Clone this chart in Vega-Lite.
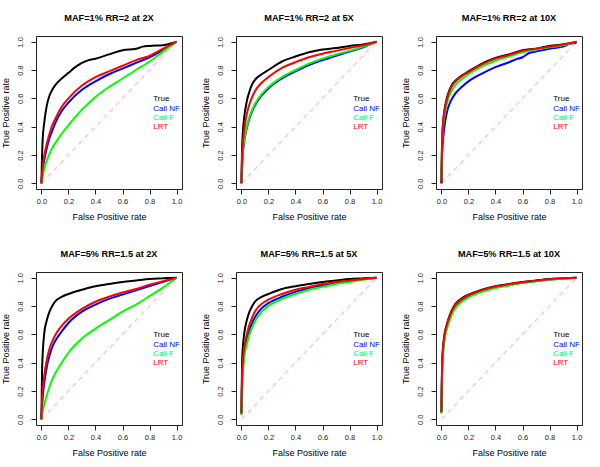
{
"$schema": "https://vega.github.io/schema/vega-lite/v6.json",
"padding": {"left": 0, "top": 13, "right": 0, "bottom": 0},
"config": {"view": {"stroke": "#222", "strokeWidth": 1}, "font": "Liberation Sans"},
"datasets": {"roc": [
{"panel":"MAF=1% RR=2 at 2X","series":"True","fpr":0,"tpr":0},{"panel":"MAF=1% RR=2 at 2X","series":"True","fpr":0.005,"tpr":0.2},{"panel":"MAF=1% RR=2 at 2X","series":"True","fpr":0.01,"tpr":0.32},{"panel":"MAF=1% RR=2 at 2X","series":"True","fpr":0.02,"tpr":0.42},{"panel":"MAF=1% RR=2 at 2X","series":"True","fpr":0.04,"tpr":0.55},{"panel":"MAF=1% RR=2 at 2X","series":"True","fpr":0.06,"tpr":0.62},{"panel":"MAF=1% RR=2 at 2X","series":"True","fpr":0.08,"tpr":0.66},{"panel":"MAF=1% RR=2 at 2X","series":"True","fpr":0.1,"tpr":0.69},{"panel":"MAF=1% RR=2 at 2X","series":"True","fpr":0.15,"tpr":0.74},{"panel":"MAF=1% RR=2 at 2X","series":"True","fpr":0.2,"tpr":0.78},{"panel":"MAF=1% RR=2 at 2X","series":"True","fpr":0.25,"tpr":0.82},{"panel":"MAF=1% RR=2 at 2X","series":"True","fpr":0.3,"tpr":0.85},{"panel":"MAF=1% RR=2 at 2X","series":"True","fpr":0.35,"tpr":0.87},{"panel":"MAF=1% RR=2 at 2X","series":"True","fpr":0.4,"tpr":0.88},{"panel":"MAF=1% RR=2 at 2X","series":"True","fpr":0.5,"tpr":0.91},{"panel":"MAF=1% RR=2 at 2X","series":"True","fpr":0.6,"tpr":0.94},{"panel":"MAF=1% RR=2 at 2X","series":"True","fpr":0.7,"tpr":0.95},{"panel":"MAF=1% RR=2 at 2X","series":"True","fpr":0.75,"tpr":0.965},{"panel":"MAF=1% RR=2 at 2X","series":"True","fpr":0.8,"tpr":0.97},{"panel":"MAF=1% RR=2 at 2X","series":"True","fpr":0.9,"tpr":0.975},{"panel":"MAF=1% RR=2 at 2X","series":"True","fpr":0.95,"tpr":0.985},{"panel":"MAF=1% RR=2 at 2X","series":"True","fpr":1,"tpr":1},
{"panel":"MAF=1% RR=2 at 2X","series":"Call NF","fpr":0,"tpr":0},{"panel":"MAF=1% RR=2 at 2X","series":"Call NF","fpr":0.01,"tpr":0.1},{"panel":"MAF=1% RR=2 at 2X","series":"Call NF","fpr":0.02,"tpr":0.16},{"panel":"MAF=1% RR=2 at 2X","series":"Call NF","fpr":0.04,"tpr":0.25},{"panel":"MAF=1% RR=2 at 2X","series":"Call NF","fpr":0.06,"tpr":0.32},{"panel":"MAF=1% RR=2 at 2X","series":"Call NF","fpr":0.08,"tpr":0.37},{"panel":"MAF=1% RR=2 at 2X","series":"Call NF","fpr":0.1,"tpr":0.42},{"panel":"MAF=1% RR=2 at 2X","series":"Call NF","fpr":0.15,"tpr":0.51},{"panel":"MAF=1% RR=2 at 2X","series":"Call NF","fpr":0.2,"tpr":0.57},{"panel":"MAF=1% RR=2 at 2X","series":"Call NF","fpr":0.3,"tpr":0.66},{"panel":"MAF=1% RR=2 at 2X","series":"Call NF","fpr":0.4,"tpr":0.72},{"panel":"MAF=1% RR=2 at 2X","series":"Call NF","fpr":0.5,"tpr":0.77},{"panel":"MAF=1% RR=2 at 2X","series":"Call NF","fpr":0.6,"tpr":0.81},{"panel":"MAF=1% RR=2 at 2X","series":"Call NF","fpr":0.7,"tpr":0.85},{"panel":"MAF=1% RR=2 at 2X","series":"Call NF","fpr":0.8,"tpr":0.89},{"panel":"MAF=1% RR=2 at 2X","series":"Call NF","fpr":0.9,"tpr":0.94},{"panel":"MAF=1% RR=2 at 2X","series":"Call NF","fpr":1,"tpr":1},
{"panel":"MAF=1% RR=2 at 2X","series":"Call F","fpr":0,"tpr":0},{"panel":"MAF=1% RR=2 at 2X","series":"Call F","fpr":0.01,"tpr":0.05},{"panel":"MAF=1% RR=2 at 2X","series":"Call F","fpr":0.02,"tpr":0.1},{"panel":"MAF=1% RR=2 at 2X","series":"Call F","fpr":0.04,"tpr":0.16},{"panel":"MAF=1% RR=2 at 2X","series":"Call F","fpr":0.06,"tpr":0.21},{"panel":"MAF=1% RR=2 at 2X","series":"Call F","fpr":0.08,"tpr":0.25},{"panel":"MAF=1% RR=2 at 2X","series":"Call F","fpr":0.1,"tpr":0.28},{"panel":"MAF=1% RR=2 at 2X","series":"Call F","fpr":0.15,"tpr":0.35},{"panel":"MAF=1% RR=2 at 2X","series":"Call F","fpr":0.2,"tpr":0.41},{"panel":"MAF=1% RR=2 at 2X","series":"Call F","fpr":0.3,"tpr":0.52},{"panel":"MAF=1% RR=2 at 2X","series":"Call F","fpr":0.4,"tpr":0.61},{"panel":"MAF=1% RR=2 at 2X","series":"Call F","fpr":0.5,"tpr":0.68},{"panel":"MAF=1% RR=2 at 2X","series":"Call F","fpr":0.6,"tpr":0.74},{"panel":"MAF=1% RR=2 at 2X","series":"Call F","fpr":0.7,"tpr":0.8},{"panel":"MAF=1% RR=2 at 2X","series":"Call F","fpr":0.8,"tpr":0.86},{"panel":"MAF=1% RR=2 at 2X","series":"Call F","fpr":0.9,"tpr":0.93},{"panel":"MAF=1% RR=2 at 2X","series":"Call F","fpr":1,"tpr":1},
{"panel":"MAF=1% RR=2 at 2X","series":"LRT","fpr":0,"tpr":0},{"panel":"MAF=1% RR=2 at 2X","series":"LRT","fpr":0.01,"tpr":0.12},{"panel":"MAF=1% RR=2 at 2X","series":"LRT","fpr":0.02,"tpr":0.19},{"panel":"MAF=1% RR=2 at 2X","series":"LRT","fpr":0.04,"tpr":0.28},{"panel":"MAF=1% RR=2 at 2X","series":"LRT","fpr":0.06,"tpr":0.35},{"panel":"MAF=1% RR=2 at 2X","series":"LRT","fpr":0.08,"tpr":0.41},{"panel":"MAF=1% RR=2 at 2X","series":"LRT","fpr":0.1,"tpr":0.45},{"panel":"MAF=1% RR=2 at 2X","series":"LRT","fpr":0.15,"tpr":0.54},{"panel":"MAF=1% RR=2 at 2X","series":"LRT","fpr":0.2,"tpr":0.6},{"panel":"MAF=1% RR=2 at 2X","series":"LRT","fpr":0.3,"tpr":0.69},{"panel":"MAF=1% RR=2 at 2X","series":"LRT","fpr":0.4,"tpr":0.75},{"panel":"MAF=1% RR=2 at 2X","series":"LRT","fpr":0.5,"tpr":0.79},{"panel":"MAF=1% RR=2 at 2X","series":"LRT","fpr":0.6,"tpr":0.83},{"panel":"MAF=1% RR=2 at 2X","series":"LRT","fpr":0.7,"tpr":0.87},{"panel":"MAF=1% RR=2 at 2X","series":"LRT","fpr":0.8,"tpr":0.9},{"panel":"MAF=1% RR=2 at 2X","series":"LRT","fpr":0.9,"tpr":0.95},{"panel":"MAF=1% RR=2 at 2X","series":"LRT","fpr":1,"tpr":1},

{"panel":"MAF=1% RR=2 at 5X","series":"True","fpr":0,"tpr":0},{"panel":"MAF=1% RR=2 at 5X","series":"True","fpr":0.005,"tpr":0.25},{"panel":"MAF=1% RR=2 at 5X","series":"True","fpr":0.01,"tpr":0.35},{"panel":"MAF=1% RR=2 at 5X","series":"True","fpr":0.02,"tpr":0.46},{"panel":"MAF=1% RR=2 at 5X","series":"True","fpr":0.04,"tpr":0.58},{"panel":"MAF=1% RR=2 at 5X","series":"True","fpr":0.06,"tpr":0.65},{"panel":"MAF=1% RR=2 at 5X","series":"True","fpr":0.08,"tpr":0.7},{"panel":"MAF=1% RR=2 at 5X","series":"True","fpr":0.1,"tpr":0.73},{"panel":"MAF=1% RR=2 at 5X","series":"True","fpr":0.15,"tpr":0.77},{"panel":"MAF=1% RR=2 at 5X","series":"True","fpr":0.2,"tpr":0.8},{"panel":"MAF=1% RR=2 at 5X","series":"True","fpr":0.3,"tpr":0.86},{"panel":"MAF=1% RR=2 at 5X","series":"True","fpr":0.4,"tpr":0.895},{"panel":"MAF=1% RR=2 at 5X","series":"True","fpr":0.5,"tpr":0.925},{"panel":"MAF=1% RR=2 at 5X","series":"True","fpr":0.6,"tpr":0.945},{"panel":"MAF=1% RR=2 at 5X","series":"True","fpr":0.7,"tpr":0.955},{"panel":"MAF=1% RR=2 at 5X","series":"True","fpr":0.8,"tpr":0.97},{"panel":"MAF=1% RR=2 at 5X","series":"True","fpr":0.9,"tpr":0.98},{"panel":"MAF=1% RR=2 at 5X","series":"True","fpr":1,"tpr":1},
{"panel":"MAF=1% RR=2 at 5X","series":"Call NF","fpr":0,"tpr":0},{"panel":"MAF=1% RR=2 at 5X","series":"Call NF","fpr":0.005,"tpr":0.12},{"panel":"MAF=1% RR=2 at 5X","series":"Call NF","fpr":0.01,"tpr":0.2},{"panel":"MAF=1% RR=2 at 5X","series":"Call NF","fpr":0.02,"tpr":0.29},{"panel":"MAF=1% RR=2 at 5X","series":"Call NF","fpr":0.04,"tpr":0.39},{"panel":"MAF=1% RR=2 at 5X","series":"Call NF","fpr":0.06,"tpr":0.46},{"panel":"MAF=1% RR=2 at 5X","series":"Call NF","fpr":0.08,"tpr":0.51},{"panel":"MAF=1% RR=2 at 5X","series":"Call NF","fpr":0.1,"tpr":0.55},{"panel":"MAF=1% RR=2 at 5X","series":"Call NF","fpr":0.15,"tpr":0.62},{"panel":"MAF=1% RR=2 at 5X","series":"Call NF","fpr":0.2,"tpr":0.67},{"panel":"MAF=1% RR=2 at 5X","series":"Call NF","fpr":0.3,"tpr":0.74},{"panel":"MAF=1% RR=2 at 5X","series":"Call NF","fpr":0.4,"tpr":0.79},{"panel":"MAF=1% RR=2 at 5X","series":"Call NF","fpr":0.5,"tpr":0.835},{"panel":"MAF=1% RR=2 at 5X","series":"Call NF","fpr":0.6,"tpr":0.87},{"panel":"MAF=1% RR=2 at 5X","series":"Call NF","fpr":0.7,"tpr":0.9},{"panel":"MAF=1% RR=2 at 5X","series":"Call NF","fpr":0.8,"tpr":0.93},{"panel":"MAF=1% RR=2 at 5X","series":"Call NF","fpr":0.9,"tpr":0.96},{"panel":"MAF=1% RR=2 at 5X","series":"Call NF","fpr":1,"tpr":1},
{"panel":"MAF=1% RR=2 at 5X","series":"Call F","fpr":0,"tpr":0.01},{"panel":"MAF=1% RR=2 at 5X","series":"Call F","fpr":0.005,"tpr":0.13},{"panel":"MAF=1% RR=2 at 5X","series":"Call F","fpr":0.01,"tpr":0.21},{"panel":"MAF=1% RR=2 at 5X","series":"Call F","fpr":0.02,"tpr":0.3},{"panel":"MAF=1% RR=2 at 5X","series":"Call F","fpr":0.04,"tpr":0.4},{"panel":"MAF=1% RR=2 at 5X","series":"Call F","fpr":0.06,"tpr":0.47},{"panel":"MAF=1% RR=2 at 5X","series":"Call F","fpr":0.08,"tpr":0.52},{"panel":"MAF=1% RR=2 at 5X","series":"Call F","fpr":0.1,"tpr":0.56},{"panel":"MAF=1% RR=2 at 5X","series":"Call F","fpr":0.15,"tpr":0.63},{"panel":"MAF=1% RR=2 at 5X","series":"Call F","fpr":0.2,"tpr":0.68},{"panel":"MAF=1% RR=2 at 5X","series":"Call F","fpr":0.3,"tpr":0.75},{"panel":"MAF=1% RR=2 at 5X","series":"Call F","fpr":0.4,"tpr":0.8},{"panel":"MAF=1% RR=2 at 5X","series":"Call F","fpr":0.5,"tpr":0.845},{"panel":"MAF=1% RR=2 at 5X","series":"Call F","fpr":0.6,"tpr":0.88},{"panel":"MAF=1% RR=2 at 5X","series":"Call F","fpr":0.7,"tpr":0.91},{"panel":"MAF=1% RR=2 at 5X","series":"Call F","fpr":0.8,"tpr":0.935},{"panel":"MAF=1% RR=2 at 5X","series":"Call F","fpr":0.9,"tpr":0.965},{"panel":"MAF=1% RR=2 at 5X","series":"Call F","fpr":1,"tpr":1},
{"panel":"MAF=1% RR=2 at 5X","series":"LRT","fpr":0,"tpr":0},{"panel":"MAF=1% RR=2 at 5X","series":"LRT","fpr":0.005,"tpr":0.18},{"panel":"MAF=1% RR=2 at 5X","series":"LRT","fpr":0.01,"tpr":0.27},{"panel":"MAF=1% RR=2 at 5X","series":"LRT","fpr":0.02,"tpr":0.37},{"panel":"MAF=1% RR=2 at 5X","series":"LRT","fpr":0.04,"tpr":0.49},{"panel":"MAF=1% RR=2 at 5X","series":"LRT","fpr":0.06,"tpr":0.56},{"panel":"MAF=1% RR=2 at 5X","series":"LRT","fpr":0.08,"tpr":0.61},{"panel":"MAF=1% RR=2 at 5X","series":"LRT","fpr":0.1,"tpr":0.65},{"panel":"MAF=1% RR=2 at 5X","series":"LRT","fpr":0.15,"tpr":0.71},{"panel":"MAF=1% RR=2 at 5X","series":"LRT","fpr":0.2,"tpr":0.75},{"panel":"MAF=1% RR=2 at 5X","series":"LRT","fpr":0.3,"tpr":0.815},{"panel":"MAF=1% RR=2 at 5X","series":"LRT","fpr":0.4,"tpr":0.855},{"panel":"MAF=1% RR=2 at 5X","series":"LRT","fpr":0.5,"tpr":0.89},{"panel":"MAF=1% RR=2 at 5X","series":"LRT","fpr":0.6,"tpr":0.915},{"panel":"MAF=1% RR=2 at 5X","series":"LRT","fpr":0.7,"tpr":0.935},{"panel":"MAF=1% RR=2 at 5X","series":"LRT","fpr":0.8,"tpr":0.955},{"panel":"MAF=1% RR=2 at 5X","series":"LRT","fpr":0.9,"tpr":0.975},{"panel":"MAF=1% RR=2 at 5X","series":"LRT","fpr":1,"tpr":1},

{"panel":"MAF=1% RR=2 at 10X","series":"True","fpr":0,"tpr":0},{"panel":"MAF=1% RR=2 at 10X","series":"True","fpr":0.005,"tpr":0.3},{"panel":"MAF=1% RR=2 at 10X","series":"True","fpr":0.01,"tpr":0.4},{"panel":"MAF=1% RR=2 at 10X","series":"True","fpr":0.02,"tpr":0.5},{"panel":"MAF=1% RR=2 at 10X","series":"True","fpr":0.04,"tpr":0.6},{"panel":"MAF=1% RR=2 at 10X","series":"True","fpr":0.06,"tpr":0.66},{"panel":"MAF=1% RR=2 at 10X","series":"True","fpr":0.08,"tpr":0.7},{"panel":"MAF=1% RR=2 at 10X","series":"True","fpr":0.1,"tpr":0.72},{"panel":"MAF=1% RR=2 at 10X","series":"True","fpr":0.15,"tpr":0.76},{"panel":"MAF=1% RR=2 at 10X","series":"True","fpr":0.2,"tpr":0.79},{"panel":"MAF=1% RR=2 at 10X","series":"True","fpr":0.3,"tpr":0.845},{"panel":"MAF=1% RR=2 at 10X","series":"True","fpr":0.4,"tpr":0.885},{"panel":"MAF=1% RR=2 at 10X","series":"True","fpr":0.5,"tpr":0.91},{"panel":"MAF=1% RR=2 at 10X","series":"True","fpr":0.6,"tpr":0.94},{"panel":"MAF=1% RR=2 at 10X","series":"True","fpr":0.7,"tpr":0.95},{"panel":"MAF=1% RR=2 at 10X","series":"True","fpr":0.8,"tpr":0.97},{"panel":"MAF=1% RR=2 at 10X","series":"True","fpr":0.9,"tpr":0.98},{"panel":"MAF=1% RR=2 at 10X","series":"True","fpr":1,"tpr":1},
{"panel":"MAF=1% RR=2 at 10X","series":"Call NF","fpr":0,"tpr":0},{"panel":"MAF=1% RR=2 at 10X","series":"Call NF","fpr":0.005,"tpr":0.2},{"panel":"MAF=1% RR=2 at 10X","series":"Call NF","fpr":0.01,"tpr":0.28},{"panel":"MAF=1% RR=2 at 10X","series":"Call NF","fpr":0.02,"tpr":0.38},{"panel":"MAF=1% RR=2 at 10X","series":"Call NF","fpr":0.04,"tpr":0.5},{"panel":"MAF=1% RR=2 at 10X","series":"Call NF","fpr":0.06,"tpr":0.56},{"panel":"MAF=1% RR=2 at 10X","series":"Call NF","fpr":0.08,"tpr":0.6},{"panel":"MAF=1% RR=2 at 10X","series":"Call NF","fpr":0.1,"tpr":0.63},{"panel":"MAF=1% RR=2 at 10X","series":"Call NF","fpr":0.15,"tpr":0.68},{"panel":"MAF=1% RR=2 at 10X","series":"Call NF","fpr":0.2,"tpr":0.72},{"panel":"MAF=1% RR=2 at 10X","series":"Call NF","fpr":0.3,"tpr":0.775},{"panel":"MAF=1% RR=2 at 10X","series":"Call NF","fpr":0.4,"tpr":0.82},{"panel":"MAF=1% RR=2 at 10X","series":"Call NF","fpr":0.5,"tpr":0.855},{"panel":"MAF=1% RR=2 at 10X","series":"Call NF","fpr":0.55,"tpr":0.875},{"panel":"MAF=1% RR=2 at 10X","series":"Call NF","fpr":0.6,"tpr":0.89},{"panel":"MAF=1% RR=2 at 10X","series":"Call NF","fpr":0.65,"tpr":0.92},{"panel":"MAF=1% RR=2 at 10X","series":"Call NF","fpr":0.7,"tpr":0.93},{"panel":"MAF=1% RR=2 at 10X","series":"Call NF","fpr":0.8,"tpr":0.95},{"panel":"MAF=1% RR=2 at 10X","series":"Call NF","fpr":0.9,"tpr":0.965},{"panel":"MAF=1% RR=2 at 10X","series":"Call NF","fpr":0.95,"tpr":0.985},{"panel":"MAF=1% RR=2 at 10X","series":"Call NF","fpr":1,"tpr":0.99},
{"panel":"MAF=1% RR=2 at 10X","series":"Call F","fpr":0,"tpr":0.02},{"panel":"MAF=1% RR=2 at 10X","series":"Call F","fpr":0.005,"tpr":0.26},{"panel":"MAF=1% RR=2 at 10X","series":"Call F","fpr":0.01,"tpr":0.36},{"panel":"MAF=1% RR=2 at 10X","series":"Call F","fpr":0.02,"tpr":0.46},{"panel":"MAF=1% RR=2 at 10X","series":"Call F","fpr":0.04,"tpr":0.56},{"panel":"MAF=1% RR=2 at 10X","series":"Call F","fpr":0.06,"tpr":0.62},{"panel":"MAF=1% RR=2 at 10X","series":"Call F","fpr":0.08,"tpr":0.66},{"panel":"MAF=1% RR=2 at 10X","series":"Call F","fpr":0.1,"tpr":0.69},{"panel":"MAF=1% RR=2 at 10X","series":"Call F","fpr":0.15,"tpr":0.735},{"panel":"MAF=1% RR=2 at 10X","series":"Call F","fpr":0.2,"tpr":0.77},{"panel":"MAF=1% RR=2 at 10X","series":"Call F","fpr":0.3,"tpr":0.825},{"panel":"MAF=1% RR=2 at 10X","series":"Call F","fpr":0.4,"tpr":0.865},{"panel":"MAF=1% RR=2 at 10X","series":"Call F","fpr":0.5,"tpr":0.895},{"panel":"MAF=1% RR=2 at 10X","series":"Call F","fpr":0.6,"tpr":0.925},{"panel":"MAF=1% RR=2 at 10X","series":"Call F","fpr":0.7,"tpr":0.945},{"panel":"MAF=1% RR=2 at 10X","series":"Call F","fpr":0.8,"tpr":0.96},{"panel":"MAF=1% RR=2 at 10X","series":"Call F","fpr":0.9,"tpr":0.975},{"panel":"MAF=1% RR=2 at 10X","series":"Call F","fpr":1,"tpr":1},
{"panel":"MAF=1% RR=2 at 10X","series":"LRT","fpr":0,"tpr":0},{"panel":"MAF=1% RR=2 at 10X","series":"LRT","fpr":0.005,"tpr":0.29},{"panel":"MAF=1% RR=2 at 10X","series":"LRT","fpr":0.01,"tpr":0.39},{"panel":"MAF=1% RR=2 at 10X","series":"LRT","fpr":0.02,"tpr":0.49},{"panel":"MAF=1% RR=2 at 10X","series":"LRT","fpr":0.04,"tpr":0.59},{"panel":"MAF=1% RR=2 at 10X","series":"LRT","fpr":0.06,"tpr":0.65},{"panel":"MAF=1% RR=2 at 10X","series":"LRT","fpr":0.08,"tpr":0.69},{"panel":"MAF=1% RR=2 at 10X","series":"LRT","fpr":0.1,"tpr":0.715},{"panel":"MAF=1% RR=2 at 10X","series":"LRT","fpr":0.15,"tpr":0.755},{"panel":"MAF=1% RR=2 at 10X","series":"LRT","fpr":0.2,"tpr":0.785},{"panel":"MAF=1% RR=2 at 10X","series":"LRT","fpr":0.3,"tpr":0.84},{"panel":"MAF=1% RR=2 at 10X","series":"LRT","fpr":0.4,"tpr":0.88},{"panel":"MAF=1% RR=2 at 10X","series":"LRT","fpr":0.5,"tpr":0.905},{"panel":"MAF=1% RR=2 at 10X","series":"LRT","fpr":0.6,"tpr":0.935},{"panel":"MAF=1% RR=2 at 10X","series":"LRT","fpr":0.7,"tpr":0.95},{"panel":"MAF=1% RR=2 at 10X","series":"LRT","fpr":0.8,"tpr":0.965},{"panel":"MAF=1% RR=2 at 10X","series":"LRT","fpr":0.9,"tpr":0.98},{"panel":"MAF=1% RR=2 at 10X","series":"LRT","fpr":1,"tpr":1},

{"panel":"MAF=5% RR=1.5 at 2X","series":"True","fpr":0,"tpr":0},{"panel":"MAF=5% RR=1.5 at 2X","series":"True","fpr":0.005,"tpr":0.35},{"panel":"MAF=5% RR=1.5 at 2X","series":"True","fpr":0.01,"tpr":0.47},{"panel":"MAF=5% RR=1.5 at 2X","series":"True","fpr":0.02,"tpr":0.6},{"panel":"MAF=5% RR=1.5 at 2X","series":"True","fpr":0.04,"tpr":0.7},{"panel":"MAF=5% RR=1.5 at 2X","series":"True","fpr":0.06,"tpr":0.76},{"panel":"MAF=5% RR=1.5 at 2X","series":"True","fpr":0.08,"tpr":0.8},{"panel":"MAF=5% RR=1.5 at 2X","series":"True","fpr":0.1,"tpr":0.83},{"panel":"MAF=5% RR=1.5 at 2X","series":"True","fpr":0.15,"tpr":0.865},{"panel":"MAF=5% RR=1.5 at 2X","series":"True","fpr":0.2,"tpr":0.885},{"panel":"MAF=5% RR=1.5 at 2X","series":"True","fpr":0.3,"tpr":0.915},{"panel":"MAF=5% RR=1.5 at 2X","series":"True","fpr":0.4,"tpr":0.94},{"panel":"MAF=5% RR=1.5 at 2X","series":"True","fpr":0.5,"tpr":0.955},{"panel":"MAF=5% RR=1.5 at 2X","series":"True","fpr":0.6,"tpr":0.97},{"panel":"MAF=5% RR=1.5 at 2X","series":"True","fpr":0.7,"tpr":0.98},{"panel":"MAF=5% RR=1.5 at 2X","series":"True","fpr":0.8,"tpr":0.99},{"panel":"MAF=5% RR=1.5 at 2X","series":"True","fpr":0.9,"tpr":0.995},{"panel":"MAF=5% RR=1.5 at 2X","series":"True","fpr":1,"tpr":1},
{"panel":"MAF=5% RR=1.5 at 2X","series":"Call NF","fpr":0,"tpr":0},{"panel":"MAF=5% RR=1.5 at 2X","series":"Call NF","fpr":0.005,"tpr":0.1},{"panel":"MAF=5% RR=1.5 at 2X","series":"Call NF","fpr":0.01,"tpr":0.16},{"panel":"MAF=5% RR=1.5 at 2X","series":"Call NF","fpr":0.02,"tpr":0.25},{"panel":"MAF=5% RR=1.5 at 2X","series":"Call NF","fpr":0.04,"tpr":0.37},{"panel":"MAF=5% RR=1.5 at 2X","series":"Call NF","fpr":0.06,"tpr":0.45},{"panel":"MAF=5% RR=1.5 at 2X","series":"Call NF","fpr":0.08,"tpr":0.51},{"panel":"MAF=5% RR=1.5 at 2X","series":"Call NF","fpr":0.1,"tpr":0.55},{"panel":"MAF=5% RR=1.5 at 2X","series":"Call NF","fpr":0.15,"tpr":0.62},{"panel":"MAF=5% RR=1.5 at 2X","series":"Call NF","fpr":0.2,"tpr":0.68},{"panel":"MAF=5% RR=1.5 at 2X","series":"Call NF","fpr":0.3,"tpr":0.76},{"panel":"MAF=5% RR=1.5 at 2X","series":"Call NF","fpr":0.4,"tpr":0.81},{"panel":"MAF=5% RR=1.5 at 2X","series":"Call NF","fpr":0.5,"tpr":0.85},{"panel":"MAF=5% RR=1.5 at 2X","series":"Call NF","fpr":0.6,"tpr":0.88},{"panel":"MAF=5% RR=1.5 at 2X","series":"Call NF","fpr":0.7,"tpr":0.91},{"panel":"MAF=5% RR=1.5 at 2X","series":"Call NF","fpr":0.8,"tpr":0.94},{"panel":"MAF=5% RR=1.5 at 2X","series":"Call NF","fpr":0.9,"tpr":0.97},{"panel":"MAF=5% RR=1.5 at 2X","series":"Call NF","fpr":1,"tpr":1},
{"panel":"MAF=5% RR=1.5 at 2X","series":"Call F","fpr":0,"tpr":0},{"panel":"MAF=5% RR=1.5 at 2X","series":"Call F","fpr":0.01,"tpr":0.06},{"panel":"MAF=5% RR=1.5 at 2X","series":"Call F","fpr":0.02,"tpr":0.1},{"panel":"MAF=5% RR=1.5 at 2X","series":"Call F","fpr":0.04,"tpr":0.17},{"panel":"MAF=5% RR=1.5 at 2X","series":"Call F","fpr":0.06,"tpr":0.23},{"panel":"MAF=5% RR=1.5 at 2X","series":"Call F","fpr":0.08,"tpr":0.28},{"panel":"MAF=5% RR=1.5 at 2X","series":"Call F","fpr":0.1,"tpr":0.32},{"panel":"MAF=5% RR=1.5 at 2X","series":"Call F","fpr":0.15,"tpr":0.4},{"panel":"MAF=5% RR=1.5 at 2X","series":"Call F","fpr":0.2,"tpr":0.47},{"panel":"MAF=5% RR=1.5 at 2X","series":"Call F","fpr":0.3,"tpr":0.57},{"panel":"MAF=5% RR=1.5 at 2X","series":"Call F","fpr":0.4,"tpr":0.64},{"panel":"MAF=5% RR=1.5 at 2X","series":"Call F","fpr":0.5,"tpr":0.7},{"panel":"MAF=5% RR=1.5 at 2X","series":"Call F","fpr":0.6,"tpr":0.76},{"panel":"MAF=5% RR=1.5 at 2X","series":"Call F","fpr":0.7,"tpr":0.81},{"panel":"MAF=5% RR=1.5 at 2X","series":"Call F","fpr":0.8,"tpr":0.87},{"panel":"MAF=5% RR=1.5 at 2X","series":"Call F","fpr":0.9,"tpr":0.93},{"panel":"MAF=5% RR=1.5 at 2X","series":"Call F","fpr":1,"tpr":1},
{"panel":"MAF=5% RR=1.5 at 2X","series":"LRT","fpr":0,"tpr":0},{"panel":"MAF=5% RR=1.5 at 2X","series":"LRT","fpr":0.005,"tpr":0.13},{"panel":"MAF=5% RR=1.5 at 2X","series":"LRT","fpr":0.01,"tpr":0.2},{"panel":"MAF=5% RR=1.5 at 2X","series":"LRT","fpr":0.02,"tpr":0.3},{"panel":"MAF=5% RR=1.5 at 2X","series":"LRT","fpr":0.04,"tpr":0.42},{"panel":"MAF=5% RR=1.5 at 2X","series":"LRT","fpr":0.06,"tpr":0.5},{"panel":"MAF=5% RR=1.5 at 2X","series":"LRT","fpr":0.08,"tpr":0.55},{"panel":"MAF=5% RR=1.5 at 2X","series":"LRT","fpr":0.1,"tpr":0.59},{"panel":"MAF=5% RR=1.5 at 2X","series":"LRT","fpr":0.15,"tpr":0.66},{"panel":"MAF=5% RR=1.5 at 2X","series":"LRT","fpr":0.2,"tpr":0.71},{"panel":"MAF=5% RR=1.5 at 2X","series":"LRT","fpr":0.3,"tpr":0.78},{"panel":"MAF=5% RR=1.5 at 2X","series":"LRT","fpr":0.4,"tpr":0.83},{"panel":"MAF=5% RR=1.5 at 2X","series":"LRT","fpr":0.5,"tpr":0.865},{"panel":"MAF=5% RR=1.5 at 2X","series":"LRT","fpr":0.6,"tpr":0.895},{"panel":"MAF=5% RR=1.5 at 2X","series":"LRT","fpr":0.7,"tpr":0.92},{"panel":"MAF=5% RR=1.5 at 2X","series":"LRT","fpr":0.8,"tpr":0.95},{"panel":"MAF=5% RR=1.5 at 2X","series":"LRT","fpr":0.9,"tpr":0.975},{"panel":"MAF=5% RR=1.5 at 2X","series":"LRT","fpr":1,"tpr":1},

{"panel":"MAF=5% RR=1.5 at 5X","series":"True","fpr":0,"tpr":0.05},{"panel":"MAF=5% RR=1.5 at 5X","series":"True","fpr":0.005,"tpr":0.4},{"panel":"MAF=5% RR=1.5 at 5X","series":"True","fpr":0.01,"tpr":0.5},{"panel":"MAF=5% RR=1.5 at 5X","series":"True","fpr":0.02,"tpr":0.6},{"panel":"MAF=5% RR=1.5 at 5X","series":"True","fpr":0.04,"tpr":0.7},{"panel":"MAF=5% RR=1.5 at 5X","series":"True","fpr":0.06,"tpr":0.76},{"panel":"MAF=5% RR=1.5 at 5X","series":"True","fpr":0.08,"tpr":0.8},{"panel":"MAF=5% RR=1.5 at 5X","series":"True","fpr":0.1,"tpr":0.83},{"panel":"MAF=5% RR=1.5 at 5X","series":"True","fpr":0.15,"tpr":0.865},{"panel":"MAF=5% RR=1.5 at 5X","series":"True","fpr":0.2,"tpr":0.885},{"panel":"MAF=5% RR=1.5 at 5X","series":"True","fpr":0.3,"tpr":0.92},{"panel":"MAF=5% RR=1.5 at 5X","series":"True","fpr":0.4,"tpr":0.94},{"panel":"MAF=5% RR=1.5 at 5X","series":"True","fpr":0.5,"tpr":0.955},{"panel":"MAF=5% RR=1.5 at 5X","series":"True","fpr":0.6,"tpr":0.97},{"panel":"MAF=5% RR=1.5 at 5X","series":"True","fpr":0.7,"tpr":0.98},{"panel":"MAF=5% RR=1.5 at 5X","series":"True","fpr":0.8,"tpr":0.99},{"panel":"MAF=5% RR=1.5 at 5X","series":"True","fpr":0.9,"tpr":0.995},{"panel":"MAF=5% RR=1.5 at 5X","series":"True","fpr":1,"tpr":1},
{"panel":"MAF=5% RR=1.5 at 5X","series":"Call NF","fpr":0,"tpr":0.04},{"panel":"MAF=5% RR=1.5 at 5X","series":"Call NF","fpr":0.005,"tpr":0.26},{"panel":"MAF=5% RR=1.5 at 5X","series":"Call NF","fpr":0.01,"tpr":0.35},{"panel":"MAF=5% RR=1.5 at 5X","series":"Call NF","fpr":0.02,"tpr":0.46},{"panel":"MAF=5% RR=1.5 at 5X","series":"Call NF","fpr":0.04,"tpr":0.56},{"panel":"MAF=5% RR=1.5 at 5X","series":"Call NF","fpr":0.06,"tpr":0.63},{"panel":"MAF=5% RR=1.5 at 5X","series":"Call NF","fpr":0.08,"tpr":0.68},{"panel":"MAF=5% RR=1.5 at 5X","series":"Call NF","fpr":0.1,"tpr":0.72},{"panel":"MAF=5% RR=1.5 at 5X","series":"Call NF","fpr":0.15,"tpr":0.785},{"panel":"MAF=5% RR=1.5 at 5X","series":"Call NF","fpr":0.2,"tpr":0.82},{"panel":"MAF=5% RR=1.5 at 5X","series":"Call NF","fpr":0.3,"tpr":0.865},{"panel":"MAF=5% RR=1.5 at 5X","series":"Call NF","fpr":0.4,"tpr":0.9},{"panel":"MAF=5% RR=1.5 at 5X","series":"Call NF","fpr":0.5,"tpr":0.925},{"panel":"MAF=5% RR=1.5 at 5X","series":"Call NF","fpr":0.6,"tpr":0.945},{"panel":"MAF=5% RR=1.5 at 5X","series":"Call NF","fpr":0.7,"tpr":0.96},{"panel":"MAF=5% RR=1.5 at 5X","series":"Call NF","fpr":0.8,"tpr":0.975},{"panel":"MAF=5% RR=1.5 at 5X","series":"Call NF","fpr":0.9,"tpr":0.99},{"panel":"MAF=5% RR=1.5 at 5X","series":"Call NF","fpr":1,"tpr":1},
{"panel":"MAF=5% RR=1.5 at 5X","series":"Call F","fpr":0,"tpr":0.03},{"panel":"MAF=5% RR=1.5 at 5X","series":"Call F","fpr":0.005,"tpr":0.23},{"panel":"MAF=5% RR=1.5 at 5X","series":"Call F","fpr":0.01,"tpr":0.32},{"panel":"MAF=5% RR=1.5 at 5X","series":"Call F","fpr":0.02,"tpr":0.43},{"panel":"MAF=5% RR=1.5 at 5X","series":"Call F","fpr":0.04,"tpr":0.53},{"panel":"MAF=5% RR=1.5 at 5X","series":"Call F","fpr":0.06,"tpr":0.6},{"panel":"MAF=5% RR=1.5 at 5X","series":"Call F","fpr":0.08,"tpr":0.65},{"panel":"MAF=5% RR=1.5 at 5X","series":"Call F","fpr":0.1,"tpr":0.69},{"panel":"MAF=5% RR=1.5 at 5X","series":"Call F","fpr":0.15,"tpr":0.76},{"panel":"MAF=5% RR=1.5 at 5X","series":"Call F","fpr":0.2,"tpr":0.8},{"panel":"MAF=5% RR=1.5 at 5X","series":"Call F","fpr":0.3,"tpr":0.85},{"panel":"MAF=5% RR=1.5 at 5X","series":"Call F","fpr":0.4,"tpr":0.885},{"panel":"MAF=5% RR=1.5 at 5X","series":"Call F","fpr":0.5,"tpr":0.915},{"panel":"MAF=5% RR=1.5 at 5X","series":"Call F","fpr":0.6,"tpr":0.935},{"panel":"MAF=5% RR=1.5 at 5X","series":"Call F","fpr":0.7,"tpr":0.955},{"panel":"MAF=5% RR=1.5 at 5X","series":"Call F","fpr":0.8,"tpr":0.97},{"panel":"MAF=5% RR=1.5 at 5X","series":"Call F","fpr":0.9,"tpr":0.985},{"panel":"MAF=5% RR=1.5 at 5X","series":"Call F","fpr":1,"tpr":1},
{"panel":"MAF=5% RR=1.5 at 5X","series":"LRT","fpr":0,"tpr":0.04},{"panel":"MAF=5% RR=1.5 at 5X","series":"LRT","fpr":0.005,"tpr":0.3},{"panel":"MAF=5% RR=1.5 at 5X","series":"LRT","fpr":0.01,"tpr":0.4},{"panel":"MAF=5% RR=1.5 at 5X","series":"LRT","fpr":0.02,"tpr":0.5},{"panel":"MAF=5% RR=1.5 at 5X","series":"LRT","fpr":0.04,"tpr":0.6},{"panel":"MAF=5% RR=1.5 at 5X","series":"LRT","fpr":0.06,"tpr":0.67},{"panel":"MAF=5% RR=1.5 at 5X","series":"LRT","fpr":0.08,"tpr":0.72},{"panel":"MAF=5% RR=1.5 at 5X","series":"LRT","fpr":0.1,"tpr":0.76},{"panel":"MAF=5% RR=1.5 at 5X","series":"LRT","fpr":0.15,"tpr":0.815},{"panel":"MAF=5% RR=1.5 at 5X","series":"LRT","fpr":0.2,"tpr":0.845},{"panel":"MAF=5% RR=1.5 at 5X","series":"LRT","fpr":0.3,"tpr":0.885},{"panel":"MAF=5% RR=1.5 at 5X","series":"LRT","fpr":0.4,"tpr":0.915},{"panel":"MAF=5% RR=1.5 at 5X","series":"LRT","fpr":0.5,"tpr":0.935},{"panel":"MAF=5% RR=1.5 at 5X","series":"LRT","fpr":0.6,"tpr":0.955},{"panel":"MAF=5% RR=1.5 at 5X","series":"LRT","fpr":0.7,"tpr":0.97},{"panel":"MAF=5% RR=1.5 at 5X","series":"LRT","fpr":0.8,"tpr":0.98},{"panel":"MAF=5% RR=1.5 at 5X","series":"LRT","fpr":0.9,"tpr":0.99},{"panel":"MAF=5% RR=1.5 at 5X","series":"LRT","fpr":1,"tpr":1},

{"panel":"MAF=5% RR=1.5 at 10X","series":"True","fpr":0,"tpr":0.05},{"panel":"MAF=5% RR=1.5 at 10X","series":"True","fpr":0.005,"tpr":0.38},{"panel":"MAF=5% RR=1.5 at 10X","series":"True","fpr":0.01,"tpr":0.48},{"panel":"MAF=5% RR=1.5 at 10X","series":"True","fpr":0.02,"tpr":0.58},{"panel":"MAF=5% RR=1.5 at 10X","series":"True","fpr":0.04,"tpr":0.67},{"panel":"MAF=5% RR=1.5 at 10X","series":"True","fpr":0.06,"tpr":0.73},{"panel":"MAF=5% RR=1.5 at 10X","series":"True","fpr":0.08,"tpr":0.775},{"panel":"MAF=5% RR=1.5 at 10X","series":"True","fpr":0.1,"tpr":0.81},{"panel":"MAF=5% RR=1.5 at 10X","series":"True","fpr":0.15,"tpr":0.855},{"panel":"MAF=5% RR=1.5 at 10X","series":"True","fpr":0.2,"tpr":0.88},{"panel":"MAF=5% RR=1.5 at 10X","series":"True","fpr":0.3,"tpr":0.915},{"panel":"MAF=5% RR=1.5 at 10X","series":"True","fpr":0.4,"tpr":0.94},{"panel":"MAF=5% RR=1.5 at 10X","series":"True","fpr":0.5,"tpr":0.955},{"panel":"MAF=5% RR=1.5 at 10X","series":"True","fpr":0.6,"tpr":0.97},{"panel":"MAF=5% RR=1.5 at 10X","series":"True","fpr":0.7,"tpr":0.98},{"panel":"MAF=5% RR=1.5 at 10X","series":"True","fpr":0.8,"tpr":0.99},{"panel":"MAF=5% RR=1.5 at 10X","series":"True","fpr":0.9,"tpr":0.995},{"panel":"MAF=5% RR=1.5 at 10X","series":"True","fpr":1,"tpr":1},
{"panel":"MAF=5% RR=1.5 at 10X","series":"Call NF","fpr":0,"tpr":0.05},{"panel":"MAF=5% RR=1.5 at 10X","series":"Call NF","fpr":0.005,"tpr":0.35},{"panel":"MAF=5% RR=1.5 at 10X","series":"Call NF","fpr":0.01,"tpr":0.45},{"panel":"MAF=5% RR=1.5 at 10X","series":"Call NF","fpr":0.02,"tpr":0.56},{"panel":"MAF=5% RR=1.5 at 10X","series":"Call NF","fpr":0.04,"tpr":0.65},{"panel":"MAF=5% RR=1.5 at 10X","series":"Call NF","fpr":0.06,"tpr":0.71},{"panel":"MAF=5% RR=1.5 at 10X","series":"Call NF","fpr":0.08,"tpr":0.757},{"panel":"MAF=5% RR=1.5 at 10X","series":"Call NF","fpr":0.1,"tpr":0.793},{"panel":"MAF=5% RR=1.5 at 10X","series":"Call NF","fpr":0.15,"tpr":0.84},{"panel":"MAF=5% RR=1.5 at 10X","series":"Call NF","fpr":0.2,"tpr":0.868},{"panel":"MAF=5% RR=1.5 at 10X","series":"Call NF","fpr":0.3,"tpr":0.906},{"panel":"MAF=5% RR=1.5 at 10X","series":"Call NF","fpr":0.4,"tpr":0.932},{"panel":"MAF=5% RR=1.5 at 10X","series":"Call NF","fpr":0.5,"tpr":0.949},{"panel":"MAF=5% RR=1.5 at 10X","series":"Call NF","fpr":0.6,"tpr":0.965},{"panel":"MAF=5% RR=1.5 at 10X","series":"Call NF","fpr":0.7,"tpr":0.977},{"panel":"MAF=5% RR=1.5 at 10X","series":"Call NF","fpr":0.8,"tpr":0.987},{"panel":"MAF=5% RR=1.5 at 10X","series":"Call NF","fpr":0.9,"tpr":0.994},{"panel":"MAF=5% RR=1.5 at 10X","series":"Call NF","fpr":1,"tpr":1},
{"panel":"MAF=5% RR=1.5 at 10X","series":"Call F","fpr":0,"tpr":0.04},{"panel":"MAF=5% RR=1.5 at 10X","series":"Call F","fpr":0.005,"tpr":0.33},{"panel":"MAF=5% RR=1.5 at 10X","series":"Call F","fpr":0.01,"tpr":0.43},{"panel":"MAF=5% RR=1.5 at 10X","series":"Call F","fpr":0.02,"tpr":0.54},{"panel":"MAF=5% RR=1.5 at 10X","series":"Call F","fpr":0.04,"tpr":0.635},{"panel":"MAF=5% RR=1.5 at 10X","series":"Call F","fpr":0.06,"tpr":0.695},{"panel":"MAF=5% RR=1.5 at 10X","series":"Call F","fpr":0.08,"tpr":0.745},{"panel":"MAF=5% RR=1.5 at 10X","series":"Call F","fpr":0.1,"tpr":0.78},{"panel":"MAF=5% RR=1.5 at 10X","series":"Call F","fpr":0.15,"tpr":0.83},{"panel":"MAF=5% RR=1.5 at 10X","series":"Call F","fpr":0.2,"tpr":0.86},{"panel":"MAF=5% RR=1.5 at 10X","series":"Call F","fpr":0.3,"tpr":0.9},{"panel":"MAF=5% RR=1.5 at 10X","series":"Call F","fpr":0.4,"tpr":0.927},{"panel":"MAF=5% RR=1.5 at 10X","series":"Call F","fpr":0.5,"tpr":0.945},{"panel":"MAF=5% RR=1.5 at 10X","series":"Call F","fpr":0.6,"tpr":0.962},{"panel":"MAF=5% RR=1.5 at 10X","series":"Call F","fpr":0.7,"tpr":0.975},{"panel":"MAF=5% RR=1.5 at 10X","series":"Call F","fpr":0.8,"tpr":0.986},{"panel":"MAF=5% RR=1.5 at 10X","series":"Call F","fpr":0.9,"tpr":0.993},{"panel":"MAF=5% RR=1.5 at 10X","series":"Call F","fpr":1,"tpr":1},
{"panel":"MAF=5% RR=1.5 at 10X","series":"LRT","fpr":0,"tpr":0.05},{"panel":"MAF=5% RR=1.5 at 10X","series":"LRT","fpr":0.005,"tpr":0.37},{"panel":"MAF=5% RR=1.5 at 10X","series":"LRT","fpr":0.01,"tpr":0.47},{"panel":"MAF=5% RR=1.5 at 10X","series":"LRT","fpr":0.02,"tpr":0.575},{"panel":"MAF=5% RR=1.5 at 10X","series":"LRT","fpr":0.04,"tpr":0.665},{"panel":"MAF=5% RR=1.5 at 10X","series":"LRT","fpr":0.06,"tpr":0.725},{"panel":"MAF=5% RR=1.5 at 10X","series":"LRT","fpr":0.08,"tpr":0.77},{"panel":"MAF=5% RR=1.5 at 10X","series":"LRT","fpr":0.1,"tpr":0.805},{"panel":"MAF=5% RR=1.5 at 10X","series":"LRT","fpr":0.15,"tpr":0.85},{"panel":"MAF=5% RR=1.5 at 10X","series":"LRT","fpr":0.2,"tpr":0.876},{"panel":"MAF=5% RR=1.5 at 10X","series":"LRT","fpr":0.3,"tpr":0.912},{"panel":"MAF=5% RR=1.5 at 10X","series":"LRT","fpr":0.4,"tpr":0.937},{"panel":"MAF=5% RR=1.5 at 10X","series":"LRT","fpr":0.5,"tpr":0.953},{"panel":"MAF=5% RR=1.5 at 10X","series":"LRT","fpr":0.6,"tpr":0.968},{"panel":"MAF=5% RR=1.5 at 10X","series":"LRT","fpr":0.7,"tpr":0.979},{"panel":"MAF=5% RR=1.5 at 10X","series":"LRT","fpr":0.8,"tpr":0.989},{"panel":"MAF=5% RR=1.5 at 10X","series":"LRT","fpr":0.9,"tpr":0.995},{"panel":"MAF=5% RR=1.5 at 10X","series":"LRT","fpr":1,"tpr":1}
]},
"data": {"name": "roc"},
"facet": {"field": "panel", "type": "nominal",
  "sort": ["MAF=1% RR=2 at 2X", "MAF=1% RR=2 at 5X", "MAF=1% RR=2 at 10X", "MAF=5% RR=1.5 at 2X", "MAF=5% RR=1.5 at 5X", "MAF=5% RR=1.5 at 10X"],
  "header": {"title": null, "labelFontSize": 9.2, "labelFontWeight": "bold", "labelFont": "Liberation Sans", "labelColor": "black", "labelPadding": 13}},
"columns": 3,
"spacing": {"column": 17, "row": 27},
"resolve": {"axis": {"x": "independent", "y": "independent"}},
"spec": {
  "width": 146, "height": 153,
  "encoding": {
    "x": {"field": "fpr", "type": "quantitative", "scale": {"domain": [-0.04, 1.04], "nice": false, "zero": false},
      "axis": {"title": "False Positive rate", "values": [0, 0.2, 0.4, 0.6, 0.8, 1], "format": ".1f", "grid": false, "domain": false, "tickColor": "#222", "tickSize": 5, "labelFontSize": 7.5, "labelColor": "#222", "labelPadding": 3, "titleFontSize": 9, "titleFontWeight": "normal", "titleColor": "black", "titlePadding": 8}},
    "y": {"field": "tpr", "type": "quantitative", "scale": {"domain": [-0.04, 1.04], "nice": false, "zero": false},
      "axis": {"title": "True Positive rate", "values": [0, 0.2, 0.4, 0.6, 0.8, 1], "format": ".1f", "grid": false, "domain": false, "tickColor": "#222", "tickSize": 5, "labelFontSize": 7.5, "labelColor": "#222", "labelAngle": -90, "labelAlign": "center", "labelBaseline": "bottom", "labelPadding": 7, "titleFontSize": 9, "titleFontWeight": "normal", "titleColor": "black", "titlePadding": 6}}
  },
  "layer": [
    {"transform": [{"filter": "datum.series === 'True' && datum.fpr === 1"}],
     "mark": {"type": "rule", "color": "#FFC0CB", "strokeWidth": 1.3, "strokeDash": [5, 4]},
     "encoding": {"x": {"datum": 0}, "y": {"datum": 0}, "x2": {"datum": 1}, "y2": {"datum": 1}}},
    {"mark": {"type": "line", "strokeWidth": 2, "interpolate": "monotone"},
     "encoding": {"color": {"field": "series", "type": "nominal", "legend": null,
        "scale": {"domain": ["True", "Call NF", "Call F", "LRT"], "range": ["#000000", "#0000FF", "#00FF00", "#FF0000"]}},
       "order": {"field": "fpr", "type": "quantitative"}}},
    {"transform": [{"filter": "datum.series === 'True' && datum.fpr === 1"}],
     "mark": {"type": "text", "align": "left", "baseline": "middle", "fontSize": 8, "color": "#000000"},
     "encoding": {"x": {"datum": 0.827}, "y": {"datum": 0.593}, "text": {"value": "True"}}},
    {"transform": [{"filter": "datum.series === 'True' && datum.fpr === 1"}],
     "mark": {"type": "text", "align": "left", "baseline": "middle", "fontSize": 8, "color": "#0000FF"},
     "encoding": {"x": {"datum": 0.827}, "y": {"datum": 0.527}, "text": {"value": "Call NF"}}},
    {"transform": [{"filter": "datum.series === 'True' && datum.fpr === 1"}],
     "mark": {"type": "text", "align": "left", "baseline": "middle", "fontSize": 8, "color": "#00FF00"},
     "encoding": {"x": {"datum": 0.827}, "y": {"datum": 0.464}, "text": {"value": "Call F"}}},
    {"transform": [{"filter": "datum.series === 'True' && datum.fpr === 1"}],
     "mark": {"type": "text", "align": "left", "baseline": "middle", "fontSize": 8, "color": "#FF0000"},
     "encoding": {"x": {"datum": 0.827}, "y": {"datum": 0.4}, "text": {"value": "LRT"}}}
  ]
}
}
